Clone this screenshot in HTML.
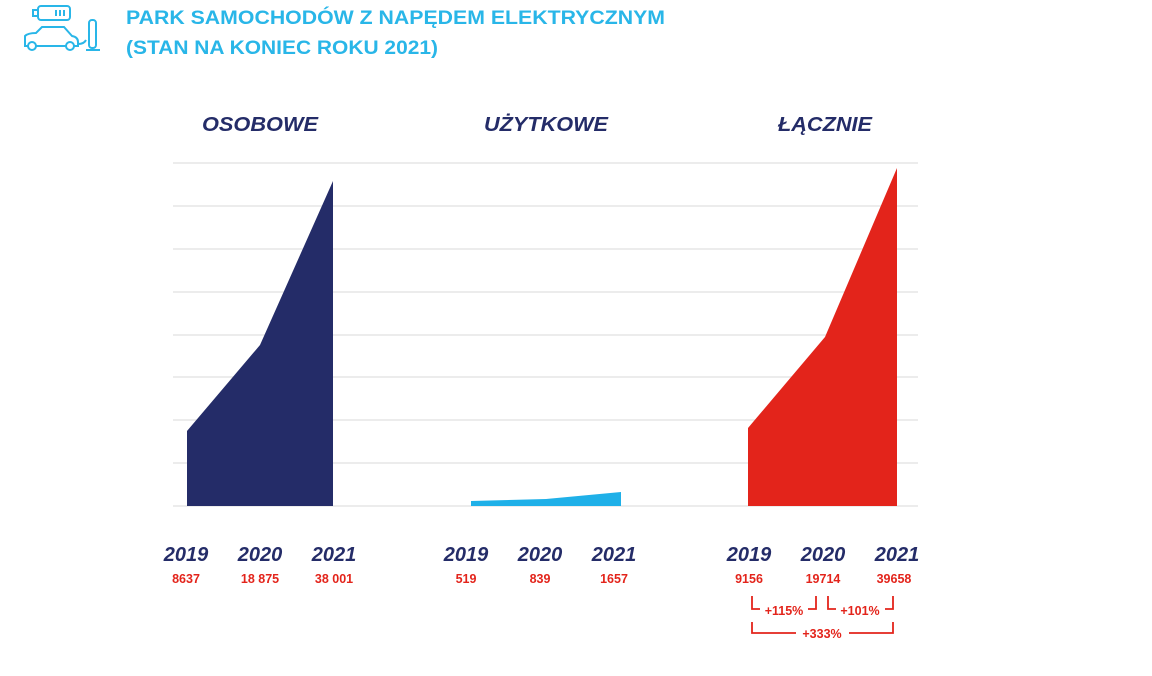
<!DOCTYPE html>
<html><head><meta charset="utf-8"><style>
body{margin:0;background:#fff;width:1152px;height:671px;overflow:hidden;font-family:"Liberation Sans",sans-serif}
</style></head><body>
<svg width="1152" height="671" xmlns="http://www.w3.org/2000/svg" font-family="Liberation Sans, sans-serif">
<g fill="none" stroke="#29b6e8" stroke-width="2">
<rect x="38" y="6" width="32" height="14" rx="3"/><rect x="33" y="10" width="5" height="6"/>
<line x1="56" y1="10" x2="56" y2="16"/><line x1="60" y1="10" x2="60" y2="16"/><line x1="64" y1="10" x2="64" y2="16"/>
<path d="M25 44 L25 36 Q28 33 36 33 L42 27 L64 27 L72 36 Q78 37 78 42 L78 46 L25 46 Z"/>
<circle cx="32" cy="46" r="4" fill="#fff"/><circle cx="70" cy="46" r="4" fill="#fff"/>
<path d="M78 44 Q84 44 86 40"/><rect x="89" y="20" width="7" height="28" rx="3"/><line x1="86" y1="50" x2="100" y2="50"/>
</g>
<text x="126" y="24" font-size="19" font-weight="bold" fill="#29b6e8" textLength="539" lengthAdjust="spacingAndGlyphs">PARK SAMOCHODÓW Z NAPĘDEM ELEKTRYCZNYM</text>
<text x="126" y="54" font-size="19" font-weight="bold" fill="#29b6e8" textLength="312" lengthAdjust="spacingAndGlyphs">(STAN NA KONIEC ROKU 2021)</text>
<g font-size="20" font-weight="bold" font-style="italic" fill="#242c68" text-anchor="middle">
<text x="260" y="131" textLength="116" lengthAdjust="spacingAndGlyphs">OSOBOWE</text><text x="546" y="131" textLength="124" lengthAdjust="spacingAndGlyphs">UŻYTKOWE</text><text x="825" y="131" textLength="94" lengthAdjust="spacingAndGlyphs">ŁĄCZNIE</text>
</g>
<g stroke="#e6e6e6" stroke-width="1.5">
<line x1="173" y1="163" x2="918" y2="163"/><line x1="173" y1="206" x2="918" y2="206"/><line x1="173" y1="249" x2="918" y2="249"/>
<line x1="173" y1="292" x2="918" y2="292"/><line x1="173" y1="335" x2="918" y2="335"/><line x1="173" y1="377" x2="918" y2="377"/>
<line x1="173" y1="420" x2="918" y2="420"/><line x1="173" y1="463" x2="918" y2="463"/><line x1="173" y1="506" x2="918" y2="506"/>
</g>
<polygon points="187,431 260,345 333,181 333,506 187,506" fill="#242c68"/>
<polygon points="471,501 546,499 621,492 621,506 471,506" fill="#1fb0e8"/>
<polygon points="748,428 825,337 897,168 897,506 748,506" fill="#e3241b"/>
<g font-size="20" font-weight="bold" font-style="italic" fill="#242c68" text-anchor="middle">
<text x="186" y="561">2019</text><text x="260" y="561">2020</text><text x="334" y="561">2021</text>
<text x="466" y="561">2019</text><text x="540" y="561">2020</text><text x="614" y="561">2021</text>
<text x="749" y="561">2019</text><text x="823" y="561">2020</text><text x="897" y="561">2021</text>
</g>
<g font-size="12.5" font-weight="bold" fill="#e3241b" text-anchor="middle">
<text x="186" y="583">8637</text><text x="260" y="583">18 875</text><text x="334" y="583">38 001</text>
<text x="466" y="583">519</text><text x="540" y="583">839</text><text x="614" y="583">1657</text>
<text x="749" y="583">9156</text><text x="823" y="583">19714</text><text x="894" y="583">39658</text>
<text x="784" y="615">+115%</text><text x="860" y="615">+101%</text><text x="822" y="638">+333%</text>
</g>
<g fill="none" stroke="#e3241b" stroke-width="1.8">
<path d="M752 596 V609 H760"/><path d="M808 609 H816 V596"/>
<path d="M828 596 V609 H836"/><path d="M885 609 H893 V596"/>
<path d="M752 622 V633 H796"/><path d="M849 633 H893 V622"/>
</g>
</svg>
</body></html>
